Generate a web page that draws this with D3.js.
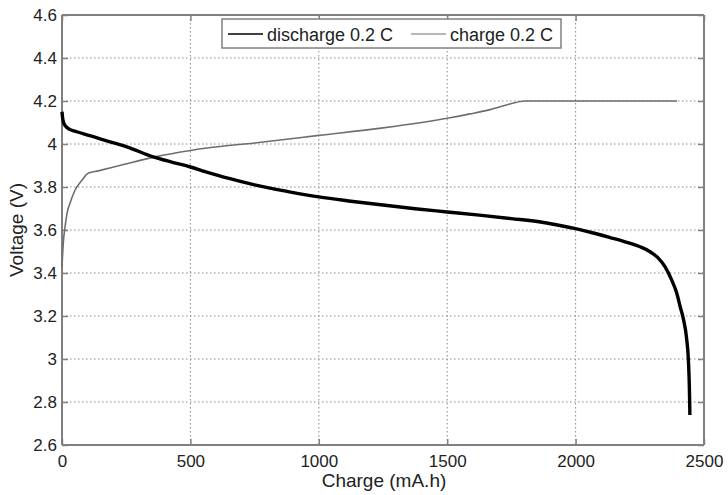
<!DOCTYPE html>
<html><head><meta charset="utf-8">
<script src="https://cdn.jsdelivr.net/npm/d3@7/dist/d3.min.js"></script>
<style>body{margin:0;background:#fff}svg{display:block}text{font-family:"Liberation Sans",Arial,sans-serif;fill:#222}</style>
</head><body><svg id="c" width="728" height="495"></svg>
<script>
const dischargeQ = [0, 2, 6, 12, 18, 30, 57, 122, 187, 252, 355, 430, 500, 557, 650, 750, 875, 1000, 1125, 1250, 1375, 1500, 1625, 1750, 1875, 1939, 2000, 2069, 2134, 2199, 2251, 2290, 2322, 2348, 2374, 2394, 2407, 2419, 2433, 2439, 2443, 2445];
const dischargeV = [4.15, 4.125, 4.1, 4.086, 4.078, 4.068, 4.057, 4.034, 4.01, 3.987, 3.94, 3.915, 3.893, 3.872, 3.84, 3.81, 3.78, 3.754, 3.734, 3.716, 3.699, 3.684, 3.669, 3.653, 3.635, 3.621, 3.606, 3.586, 3.565, 3.543, 3.522, 3.499, 3.469, 3.43, 3.368, 3.306, 3.244, 3.19, 3.088, 3.0, 2.87, 2.74];
const chargeQ = [0, 5, 12, 20, 31, 51, 77, 102, 141, 232, 362, 500, 557, 750, 1000, 1250, 1511, 1589, 1667, 1744, 1803, 2000, 2200, 2395];
const chargeV = [3.43, 3.54, 3.615, 3.68, 3.724, 3.786, 3.83, 3.864, 3.875, 3.902, 3.94, 3.97, 3.98, 4.005, 4.04, 4.075, 4.122, 4.14, 4.16, 4.186, 4.2, 4.2, 4.2, 4.2];
const xTicks = [0, 500, 1000, 1500, 2000, 2500];
const yTicks = [2.6, 2.8, 3, 3.2, 3.4, 3.6, 3.8, 4, 4.2, 4.4, 4.6];
const seriesNames = ["discharge 0.2 C", "charge 0.2 C"];

const svg = d3.select("#c");
const L = 62, R = 704, T = 15, B = 445;
const x = d3.scaleLinear().domain([0, 2500]).range([L, R]);
const y = d3.scaleLinear().domain([2.6, 4.6]).range([B, T]);
const axisCol = "#808080";
const FONT = '"Liberation Sans",Arial,sans-serif';

// grid
const g = svg.append("g");
g.selectAll(".gx").data(xTicks.slice(1, -1)).join("line")
  .attr("x1", d => x(d)).attr("x2", d => x(d)).attr("y1", T).attr("y2", B)
  .attr("stroke", "#888").attr("stroke-width", 1).attr("stroke-dasharray", "1.5,2.5");
g.selectAll(".gy").data(yTicks.slice(1, -1)).join("line")
  .attr("y1", d => y(d)).attr("y2", d => y(d)).attr("x1", L).attr("x2", R)
  .attr("stroke", "#888").attr("stroke-width", 1).attr("stroke-dasharray", "1.5,2.5");

// axes
const xa = svg.append("g").attr("transform", `translate(0,${B})`)
  .call(d3.axisBottom(x).tickValues(xTicks).tickSize(-6).tickPadding(10).tickFormat(d3.format("d")));
const xt = svg.append("g").attr("transform", `translate(0,${T})`)
  .call(d3.axisTop(x).tickValues(xTicks).tickSize(-6).tickFormat(""));
const ya = svg.append("g").attr("transform", `translate(${L},0)`)
  .call(d3.axisLeft(y).tickValues(yTicks).tickSize(-6).tickPadding(5).tickFormat(d => d3.format("")(+d.toFixed(1))));
const yr = svg.append("g").attr("transform", `translate(${R},0)`)
  .call(d3.axisRight(y).tickValues(yTicks).tickSize(-6).tickFormat(""));
[xa, xt, ya, yr].forEach(a => {
  a.selectAll("path,line").attr("stroke", axisCol).attr("stroke-width", 1.5);
  a.select(".domain").attr("stroke-width", 2);
  a.selectAll("text").attr("font-size", 17).attr("fill", "#222").style("font-family", FONT);
});
ya.select(".domain").attr("d", `M0,${T}V${B}`);
xa.select(".domain").attr("d", `M${L},0H${R}`);
xt.select(".domain").attr("d", `M${L},0H${R}`);
yr.select(".domain").attr("d", `M0,${T}V${B}`);

// lines
const chg = chargeQ.map((q, i) => [q, chargeV[i]]);
const dis = dischargeQ.map((q, i) => [q, dischargeV[i]]);
const lineGen = d3.line().x(d => x(d[0])).y(d => y(d[1])).curve(d3.curveMonotoneX);
svg.append("path").attr("d", lineGen(chg))
  .attr("fill", "none").attr("stroke", "#6e6e6e").attr("stroke-width", 1.6);
svg.append("path").attr("d", lineGen(dis))
  .attr("fill", "none").attr("stroke", "#000").attr("stroke-width", 3.4).attr("stroke-linejoin", "round");

// axis titles
svg.append("text").attr("x", (L + R) / 2 + 1).attr("y", 487).attr("text-anchor", "middle").attr("font-size", 19).text("Charge (mA.h)");
svg.append("text").attr("transform", `translate(23,${(T + B) / 2}) rotate(-90)`).attr("text-anchor", "middle").attr("font-size", 19).text("Voltage (V)");

// legend
const lg = svg.append("g");
lg.append("rect").attr("x", 222).attr("y", 19).attr("width", 339).attr("height", 29).attr("fill", "#fff").attr("stroke", axisCol).attr("stroke-width", 1.5);
const lcols = ["#000", "#6e6e6e"];
const lx = [228, 411];
seriesNames.forEach((n, i) => {
  lg.append("line").attr("x1", lx[i]).attr("x2", lx[i] + 35).attr("y1", 34).attr("y2", 34).attr("stroke", lcols[i]).attr("stroke-width", i ? 1.2 : 1.4);
  lg.append("text").attr("x", lx[i] + 39).attr("y", 41).attr("font-size", 18).text(n);
});
</script></body></html>
